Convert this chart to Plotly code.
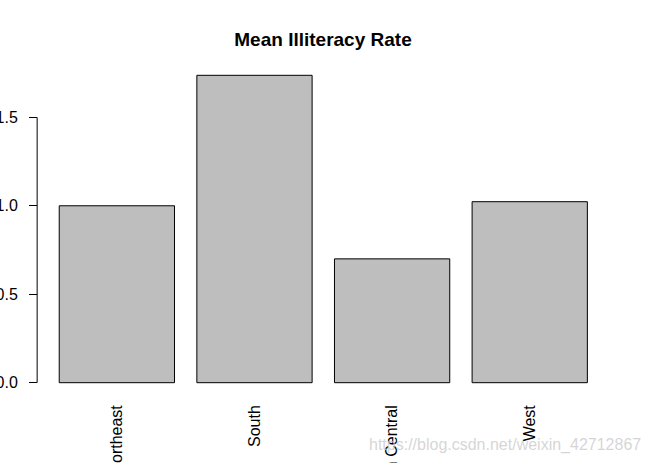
import plotly.graph_objects as go

regions = ["Northeast", "South", "North Central", "West"]
mean_illiteracy = [1.0, 1.7375, 0.70, 1.0231]
y_ticks = [0.0, 0.5, 1.0, 1.5]
y_tick_labels = ["0.0", "0.5", "1.0", "1.5"]
title_text = "Mean Illiteracy Rate"
watermark = "https://blog.csdn.net/weixin_42712867"

fig = go.Figure()
fig.add_trace(go.Bar(
    x=regions, y=mean_illiteracy,
    marker=dict(color="#BEBEBE", line=dict(color="black", width=1)),
))

fig.update_layout(
    width=646, height=463,
    margin=dict(l=38, r=37, t=63, b=68, autoexpand=False),
    paper_bgcolor="white", plot_bgcolor="white",
    bargap=0.1625,
    showlegend=False,
    font=dict(family="Arial, Liberation Sans, sans-serif", size=16, color="black"),
    title=dict(text="<b>" + title_text + "</b>", x=323/646, xanchor="center",
               y=1 - 39/463, yanchor="middle",
               font=dict(size=19, family="Arial, Liberation Sans, sans-serif", color="black")),
    xaxis=dict(range=[-0.573, 3.576], showgrid=False, zeroline=False, showline=False,
               ticks="", tickangle=-90, automargin=False, ticklabelstandoff=6,
               tickfont=dict(size=16)),
    yaxis=dict(range=[-0.0695, 1.807], showgrid=False, zeroline=False, showline=False,
               tickmode="array", tickvals=y_ticks, ticktext=y_tick_labels,
               ticks="outside", ticklen=8, tickwidth=1, tickcolor="black",
               automargin=False, ticklabelstandoff=8, tickfont=dict(size=16)),
)

# R-style axis line spanning only the tick range
fig.add_shape(type="line", xref="paper", yref="y", x0=-0.0015, x1=-0.0015,
              y0=y_ticks[0], y1=y_ticks[-1], line=dict(color="black", width=1))

fig.add_annotation(text=watermark, xref="paper", yref="paper",
                   x=(367 - 38) / (646 - 75), y=-(445 - 395) / (463 - 131),
                   xanchor="left", yanchor="middle", showarrow=False,
                   font=dict(size=16, color="rgba(200,200,200,0.75)",
                             family="Arial, Liberation Sans, sans-serif"))

fig.write_html("out.html", config={"displayModeBar": False},
               post_script="document.body.style.margin='0';")
